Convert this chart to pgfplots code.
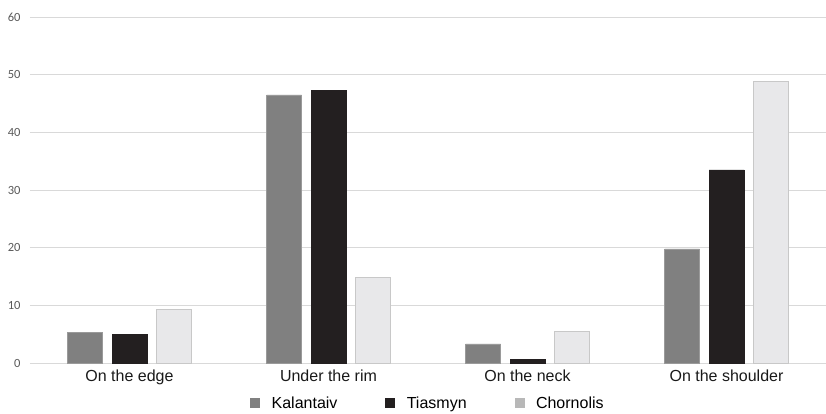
\documentclass[border=0pt]{standalone}
\usepackage{pgfplots}
\pgfplotsset{compat=1.18}
\usepackage{fontspec}
\setmainfont{Liberation Sans}
\newfontfamily\tickfont{Carlito}
\definecolor{kal}{HTML}{808080}
\definecolor{kaledge}{HTML}{9A9A9A}
\definecolor{tia}{HTML}{231F20}
\definecolor{cho}{HTML}{E8E8EA}
\definecolor{choedge}{HTML}{C8C8C8}
\definecolor{choleg}{HTML}{B8B8B8}
\definecolor{gridgray}{HTML}{D9D9D9}
\definecolor{ticktext}{HTML}{595959}
\begin{document}
\begin{tikzpicture}
\useasboundingbox (-30pt,-50pt) rectangle (796pt,363pt);
\begin{axis}[
  at={(0pt,0pt)}, anchor=south west,
  scale only axis,
  width=796pt, height=346pt,
  xmin=-0.5, xmax=3.5, ymin=0, ymax=60,
  enlargelimits=false,
  ybar=9.5pt, bar width=35pt,
  xtick={0,1,2,3},
  xticklabels={On the edge, Under the rim, On the neck, On the shoulder},
  ytick={0,10,20,30,40,50,60},
  major tick length=0pt,
  axis line style={draw=none},
  ymajorgrids,
  major grid style={draw=gridgray, line width=1pt},
  /pgf/number format/assume math mode=true,
  yticklabel style={font=\tickfont\fontsize{12.5}{14}\selectfont, text=ticktext, xshift=-6pt},
  xticklabel style={font=\fontsize{16}{18}\selectfont, text=black!90, yshift=-3pt},
  legend style={at={(0.5,-0.1156)}, anchor=center, draw=none, fill=none,
    legend columns=3, font=\fontsize{16}{18}\selectfont,
    /tikz/every even column/.append style={column sep=46pt},
    inner sep=0pt},
  legend image code/.code={\fill[#1,draw=none] (0pt,-5pt) rectangle (10pt,5pt); \path (19pt,0pt);},
  legend cell align=left,
]
\addplot[fill=kal, draw=kaledge, line width=0.6pt] coordinates {(0,5.3) (1,46.5) (2,3.3) (3,19.8)};
\addlegendentry{Kalantaiv}
\addplot[fill=tia, draw=tia, line width=0.6pt] coordinates {(0,5.0) (1,47.3) (2,0.65) (3,33.5)};
\addlegendentry{Tiasmyn}
\addplot[fill=cho, draw=choedge, line width=0.8pt, legend image post style={fill=choleg}] coordinates {(0,9.3) (1,14.9) (2,5.4) (3,48.8)};
\addlegendentry{Chornolis}
\end{axis}
\end{tikzpicture}
\end{document}
